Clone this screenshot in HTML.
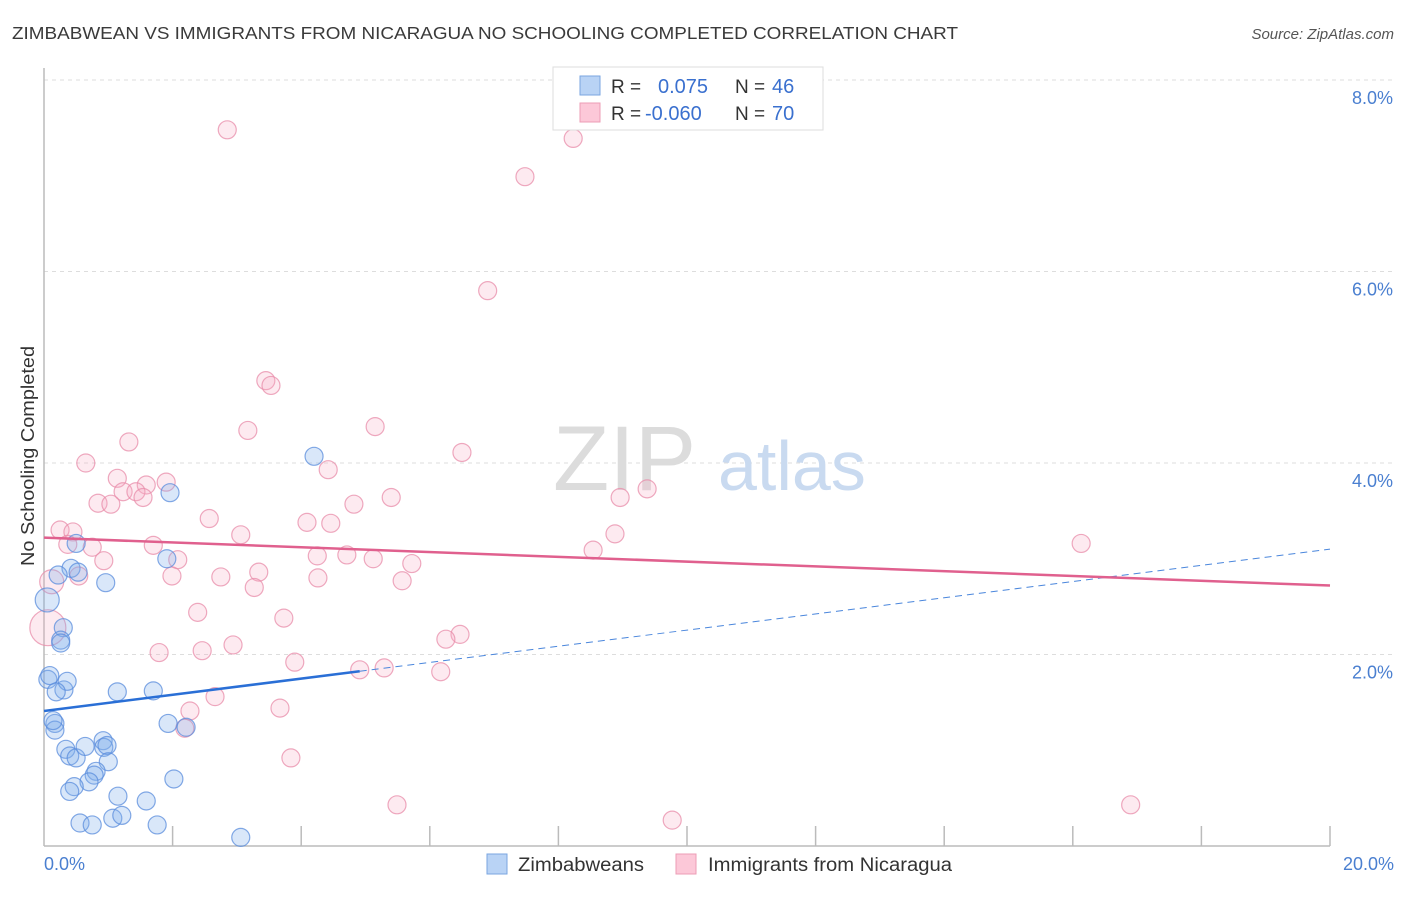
<!DOCTYPE html>
<html><head><meta charset="utf-8"><style>
body{margin:0;background:#fff;font-family:"Liberation Sans",sans-serif;}
svg text{font-family:"Liberation Sans",sans-serif;}
</style></head><body>
<svg id="chart" width="1406" height="892" viewBox="0 0 1406 892" xmlns="http://www.w3.org/2000/svg">
<text x="12" y="39" font-size="17.5" fill="#3a3a3a" textLength="946" lengthAdjust="spacingAndGlyphs">ZIMBABWEAN VS IMMIGRANTS FROM NICARAGUA NO SCHOOLING COMPLETED CORRELATION CHART</text>
<text x="1394" y="39" font-size="15" fill="#555" font-style="italic" text-anchor="end">Source: ZipAtlas.com</text>
<g id="grid"></g>
<g>
<text x="553" y="490" font-size="92" fill="#dcdcdc" font-family="Liberation Serif,serif">ZIP</text>
<text x="718" y="490" font-size="70" fill="#c9daf0">atlas</text>
</g>
<line x1="44" y1="68" x2="44" y2="846" stroke="#bbb" stroke-width="1.5"/>
<line x1="44" y1="846" x2="1330" y2="846" stroke="#bbb" stroke-width="1.5"/>
<g id="ticks"></g>
<g id="pts"></g>
<g id="lines"></g>
<text transform="translate(34,456) rotate(-90)" font-size="18" fill="#333" text-anchor="middle" textLength="220" lengthAdjust="spacingAndGlyphs">No Schooling Completed</text>
<text x="44" y="870" font-size="18" fill="#4a7fd0">0.0%</text>
<text x="1394" y="870" font-size="18" fill="#4a7fd0" text-anchor="end">20.0%</text>
<g>
<rect x="553" y="67" width="270" height="63" fill="#fff" stroke="#ddd"/>
<rect x="580" y="76" width="20" height="19" fill="#b9d3f5" stroke="#7aa6e0"/>
<rect x="580" y="103" width="20" height="19" fill="#fcc8d8" stroke="#ec9db6"/>
<text x="611" y="93" font-size="19" fill="#333">R =</text>
<text x="658" y="93" font-size="20" fill="#3a70cf">0.075</text>
<text x="735" y="93" font-size="19" fill="#333">N =</text>
<text x="772" y="93" font-size="20" fill="#3a70cf">46</text>
<text x="611" y="120" font-size="19" fill="#333">R =</text>
<text x="645" y="120" font-size="20" fill="#3a70cf">-0.060</text>
<text x="735" y="120" font-size="19" fill="#333">N =</text>
<text x="772" y="120" font-size="20" fill="#3a70cf">70</text>
</g>
<g>
<rect x="487" y="854" width="20" height="20" fill="#b9d3f5" stroke="#7aa6e0"/>
<text x="518" y="871" font-size="19" fill="#333" textLength="126" lengthAdjust="spacingAndGlyphs">Zimbabweans</text>
<rect x="676" y="854" width="20" height="20" fill="#fcc8d8" stroke="#ec9db6"/>
<text x="708" y="871" font-size="19" fill="#333" textLength="244" lengthAdjust="spacingAndGlyphs">Immigrants from Nicaragua</text>
</g>
</svg>
<script>
const yTicks=[2,4,6,8];
const yTickLabels=["2.0%","4.0%","6.0%","8.0%"];
const blueX=[0.05,0.06,0.09,0.31,0.36,0.19,0.17,0.17,0.30,0.26,0.26,0.50,0.42,0.22,0.53,0.96,1.96,1.91,4.20,1.14,1.70,1.93,2.21,0.34,0.40,0.50,0.64,0.92,0.93,0.98,1.00,0.81,0.78,0.70,0.47,0.40,1.15,1.59,2.02,0.56,0.75,1.07,1.21,1.76,3.06,0.14];
const blueY=[2.57,1.74,1.78,1.63,1.72,1.61,1.28,1.21,2.28,2.15,2.12,3.16,2.90,2.83,2.86,2.75,3.69,3.00,4.07,1.61,1.62,1.28,1.24,1.01,0.94,0.92,1.04,1.10,1.03,1.05,0.88,0.78,0.74,0.67,0.62,0.57,0.52,0.47,0.70,0.24,0.22,0.29,0.32,0.22,0.09,1.31];
const pinkX=[2.85,8.23,7.48,6.90,3.45,3.53,5.15,3.17,1.32,6.50,0.65,4.42,1.14,1.90,1.59,1.23,1.43,1.54,5.40,8.96,9.38,0.84,1.04,4.82,2.57,4.09,4.46,0.25,0.45,3.06,8.88,1.70,0.37,0.75,16.13,8.54,4.71,4.25,5.12,2.08,0.93,5.72,0.54,1.99,2.75,3.34,4.26,5.57,3.27,0.12,2.39,3.73,0.06,6.47,6.25,2.94,1.79,2.46,3.90,4.91,5.29,6.17,2.66,2.27,3.67,2.19,3.84,5.49,16.90,9.77];
const pinkY=[7.48,7.39,6.99,5.80,4.86,4.81,4.38,4.34,4.22,4.11,4.00,3.93,3.84,3.80,3.77,3.70,3.70,3.64,3.64,3.64,3.73,3.58,3.57,3.57,3.42,3.38,3.37,3.30,3.28,3.25,3.26,3.14,3.15,3.12,3.16,3.09,3.04,3.03,3.00,2.99,2.98,2.95,2.82,2.82,2.81,2.86,2.80,2.77,2.70,2.76,2.44,2.38,2.28,2.21,2.16,2.10,2.02,2.04,1.92,1.84,1.86,1.82,1.56,1.41,1.44,1.23,0.92,0.43,0.43,0.27];
const blueTrend=[1.41,3.10];
const blueSolidEnd=4.91;
const pinkTrend=[3.22,2.72];
const NS="http://www.w3.org/2000/svg";
const X=v=>44+v/20*1286;
const Y=v=>846-v*95.75;
function mk(tag,attrs,parent){const e=document.createElementNS(NS,tag);for(const k in attrs)e.setAttribute(k,attrs[k]);parent.appendChild(e);return e;}
const grid=document.getElementById('grid');
yTicks.forEach((t,i)=>{
  const l=mk('line',{x1:44,x2:1394,y1:Y(t),y2:Y(t),stroke:'#ddd','stroke-dasharray':'4,4'},grid);
  
  
  const tx=mk('text',{x:1393,y:Y(t)+24,'font-size':18,fill:'#4a7fd0','text-anchor':'end'},grid);
  tx.textContent=yTickLabels[i];
  
  
});
const ticks=document.getElementById('ticks');
for(let i=1;i<=10;i++){
  const l=mk('line',{x1:X(i*2),x2:X(i*2),y1:826,y2:846,stroke:'#bbb','stroke-width':1.5},ticks);
  
  
}
const pts=document.getElementById('pts');
pinkX.forEach((x,i)=>{
  const r=(i===52)?18:(i===49?12:9);
  const c=mk('circle',{cx:X(x),cy:Y(pinkY[i]),r:r,fill:'rgba(246,170,195,0.25)',stroke:'rgba(232,140,170,0.75)','stroke-width':1.2},pts);
  
  
});
blueX.forEach((x,i)=>{
  const r=(i===0)?12:9;
  const c=mk('circle',{cx:X(x),cy:Y(blueY[i]),r:r,fill:'rgba(130,175,235,0.3)',stroke:'rgba(90,140,220,0.75)','stroke-width':1.2},pts);
  
  
});
const lines=document.getElementById('lines');
const bAt=v=>blueTrend[0]+(blueTrend[1]-blueTrend[0])*v/20;
let l1=mk('line',{x1:X(0),y1:Y(blueTrend[0]),x2:X(blueSolidEnd),y2:Y(bAt(blueSolidEnd)),stroke:'#2a6fd6','stroke-width':2.5},lines);


let l2=mk('line',{x1:X(blueSolidEnd),y1:Y(bAt(blueSolidEnd)),x2:X(20),y2:Y(blueTrend[1]),stroke:'#4a86dc','stroke-width':1,'stroke-dasharray':'7,5'},lines);


let l3=mk('line',{x1:X(0),y1:Y(pinkTrend[0]),x2:X(20),y2:Y(pinkTrend[1]),stroke:'#e0608e','stroke-width':2.5},lines);


</script>
</body></html>
